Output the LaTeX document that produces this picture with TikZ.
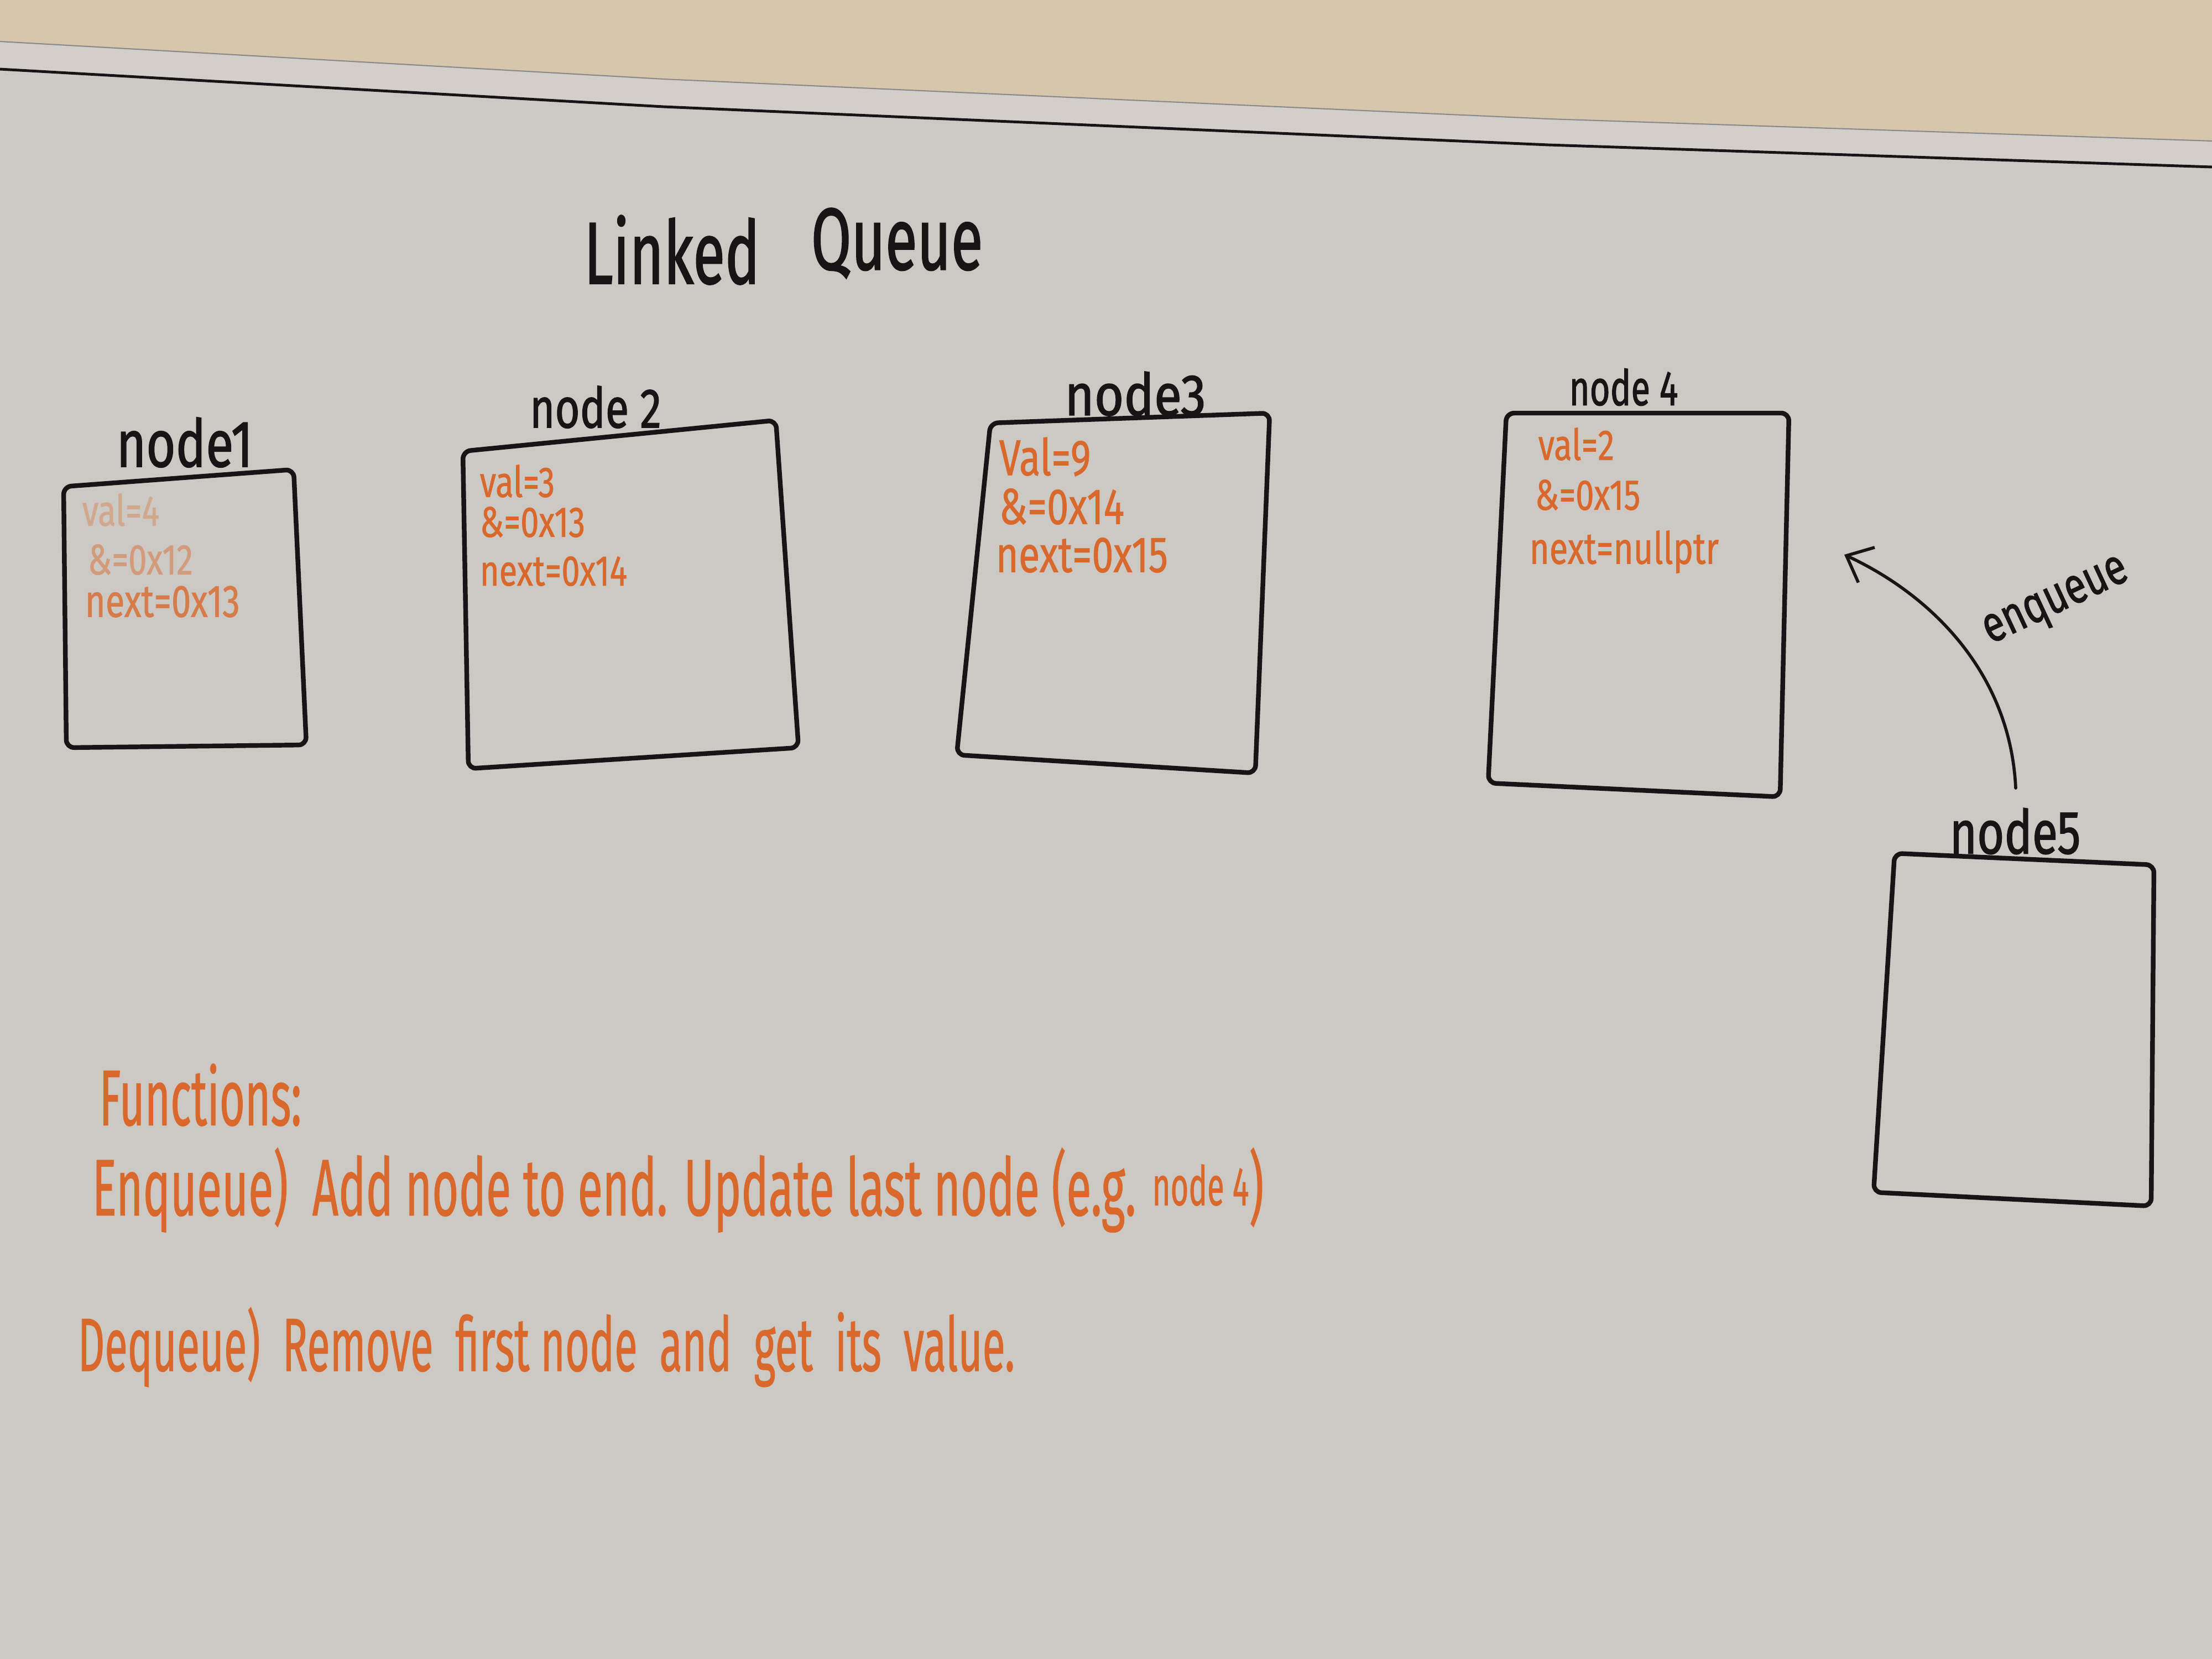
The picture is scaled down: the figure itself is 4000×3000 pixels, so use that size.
\documentclass[tikz,border=0pt]{standalone}
\usepackage{fontspec}
\setmainfont{Fira Sans}
\newfontfamily\inkfont{Fira Sans}[FakeBold=1.6]
\newfontfamily\markfont{Fira Sans}[FakeBold=1.0]
\usepackage{graphicx}
\usetikzlibrary{arrows.meta}
\definecolor{board}{HTML}{CCC8C4}
\definecolor{wall}{HTML}{D5C6AC}
\definecolor{framec}{HTML}{D3CEC9}
\definecolor{ink}{HTML}{161414}
\definecolor{marker}{HTML}{D8682C}
\definecolor{faded}{HTML}{D29C7C}
\newcommand{\tall}[2][1.3]{\scalebox{1}[#1]{#2}}
\tikzset{
  box/.style={draw=ink, line width=2.4pt, line join=round, rounded corners=4pt},
  lbl/.style={text=ink, font=\inkfont\fontsize{24}{28}\selectfont, inner sep=0pt},
  val/.style={text=marker, anchor=west, font=\markfont\fontsize{17}{20}\selectfont, inner sep=0pt},
  fn/.style={text=marker, anchor=west, font=\markfont\fontsize{22.5}{26}\selectfont, inner sep=0pt},
  arr/.style={draw=ink, line width=1.6pt, line cap=round, -{Straight Barb[length=4mm,width=7mm]}}
}
\begin{document}
\begin{tikzpicture}[x=0.01cm,y=-0.01cm]
\useasboundingbox (0,0) rectangle (4000,3000);
% board and wall
\fill[board] (0,0) rectangle (4000,3000);
\fill[wall] (0,0) -- (4000,0) -- (4000,255) -- (2800,215) -- (1200,143) -- (0,75) -- cycle;
\fill[framec] (0,75) -- (1200,143) -- (2800,215) -- (4000,255) -- (4000,302) -- (2800,262) -- (1200,193) -- (0,125) -- cycle;
\draw[ink!50, line width=0.6pt] (0,75) -- (1200,143) -- (2800,215) -- (4000,255);
\draw[ink, line width=1.4pt] (0,125) -- (1200,193) -- (2800,262) -- (4000,302);

% title
\node[lbl, font=\inkfont\fontsize{30}{36}\selectfont] (titleA) at (1215,452) {\tall[1.5]{Linked}};
\node[lbl, font=\inkfont\fontsize{30}{36}\selectfont] (titleB) at (1622,440) {\tall[1.5]{Queue}};

% node 1
\coordinate (b1a) at (115,880); \coordinate (b1b) at (531,849);
\coordinate (b1c) at (554,1347); \coordinate (b1d) at (120,1352);
\draw[box] (b1a) -- (b1b) -- (b1c) -- (b1d) -- cycle;
\node[lbl, font=\inkfont\fontsize{26}{30}\selectfont] (l1) at (334,800) {\tall{node1}};
\node[val, text=faded!75!board] (v1a) at (148,922) {\tall{val=4}};
\node[val, text=faded] (v1b) at (158,1012) {\tall{\&=0x12}};
\node[val, text=marker!80!board, font=\markfont\fontsize{18}{20}\selectfont] (v1c) at (153,1088) {\tall{next=0x13}};

% node 2
\coordinate (b2a) at (837,816); \coordinate (b2b) at (1403,760);
\coordinate (b2c) at (1444,1352); \coordinate (b2d) at (847,1390);
\draw[box] (b2a) -- (b2b) -- (b2c) -- (b2d) -- cycle;
\node[lbl, font=\inkfont\fontsize{22}{26}\selectfont] (l2) at (1077,736) {\tall{node 2}};
\node[val] (v2a) at (867,870) {\tall{val=3}};
\node[val] (v2b) at (867,944) {\tall{\&=0x13}};
\node[val] (v2c) at (867,1033) {\tall{next=0x14}};

% node 3
\coordinate (b3a) at (1791,765); \coordinate (b3b) at (2296,747);
\coordinate (b3c) at (2270,1398); \coordinate (b3d) at (1730,1365);
\draw[box] (b3a) -- (b3b) -- (b3c) -- (b3d) -- cycle;
\node[lbl, font=\inkfont\fontsize{26}{30}\selectfont] (l3) at (2053,712) {\tall[1.15]{node3}};
\node[val, font=\markfont\fontsize{20}{24}\selectfont] (v3a) at (1806,826) {\tall{Val=9}};
\node[val, font=\markfont\fontsize{20}{24}\selectfont] (v3b) at (1806,916) {\tall{\&=0x14}};
\node[val, font=\markfont\fontsize{20}{24}\selectfont] (v3c) at (1800,1004) {\tall{next=0x15}};

% node 4
\coordinate (b4a) at (2724,747); \coordinate (b4b) at (3235,747);
\coordinate (b4c) at (3219,1441); \coordinate (b4d) at (2691,1416);
\draw[box] (b4a) -- (b4b) -- (b4c) -- (b4d) -- cycle;
\node[lbl, font=\inkfont\fontsize{18}{22}\selectfont] (l4) at (2936,700) {\tall[1.4]{node 4}};
\node[val] (v4a) at (2781,803) {\tall{val=2}};
\node[val] (v4b) at (2775,895) {\tall{\&=0x15}};
\node[val, font=\markfont\fontsize{17.5}{20}\selectfont] (v4c) at (2765,998) {\tall{next=nullptr}};

% node 5
\coordinate (b5a) at (3426,1543); \coordinate (b5b) at (3895,1564);
\coordinate (b5c) at (3890,2181); \coordinate (b5d) at (3388,2156);
\draw[box] (b5a) -- (b5b) -- (b5c) -- (b5d) -- cycle;
\node[lbl] (l5) at (3644,1503) {\tall{node5}};

% enqueue arrow
\coordinate (enqS) at (3645,1425);
\coordinate (enqE) at (3335,1003);
\draw[arr] (enqS) .. controls (3635,1215) and (3490,1075) .. (enqE);
\node[lbl, rotate=25, font=\inkfont\fontsize{20}{24}\selectfont] (enqlbl) at (3720,1092) {\tall{enqueue}};

% functions
\node[fn] (fhead) at (179,1980) {\tall[1.8]{Functions:}};
\node[fn, font=\markfont\fontsize{23.5}{26}\selectfont] (fenq) at (166,2152) {\tall[1.75]{Enqueue)\ \ Add node to end. Update last node (e.g. \raisebox{3pt}{\fontsize{16}{18}\selectfont node 4})}};
\node[fn, font=\markfont\fontsize{21.5}{26}\selectfont] (fdeq) at (140,2436) {\tall[1.8]{Dequeue)\ \ Remove\ \ first node\ \ and\ \ get\ \ its\ \ value.}};
\end{tikzpicture}
\end{document}
